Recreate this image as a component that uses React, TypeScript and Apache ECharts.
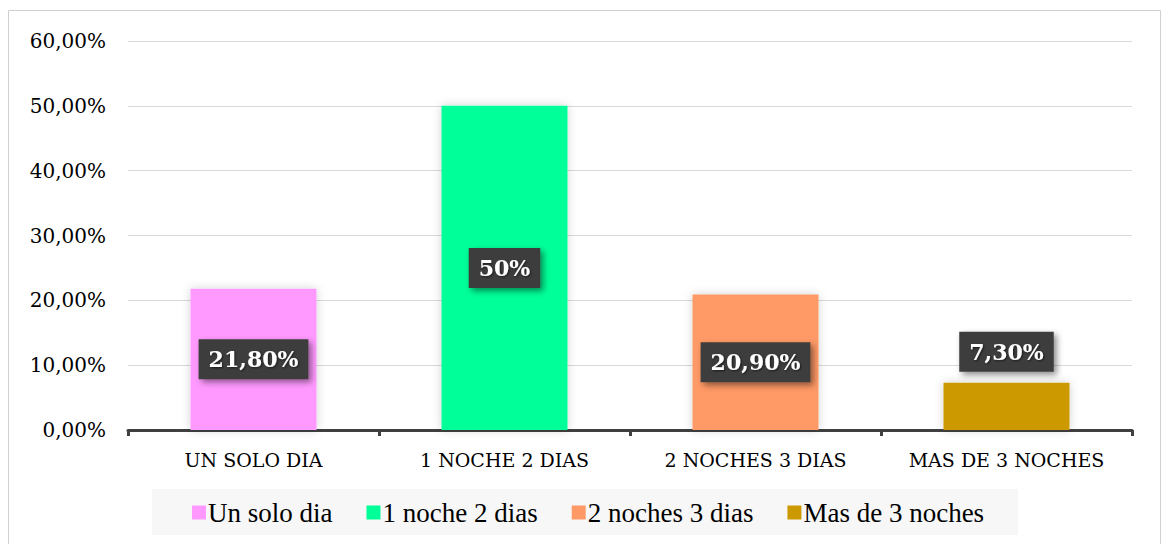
import React, { useEffect, useRef } from "react";
import * as echarts from "echarts";

const categories = ["UN SOLO DIA", "1 NOCHE 2 DIAS", "2 NOCHES 3 DIAS", "MAS DE 3 NOCHES"];
const seriesNames = ["Un solo dia", "1 noche 2 dias", "2 noches 3 dias", "Mas de 3 noches"];
const values = [21.8, 50, 20.9, 7.3];
const valueLabels = ["21,80%", "50%", "20,90%", "7,30%"];
const colors = ["#FF99FF", "#00FF99", "#FF9966", "#CC9900"];
const labelPositions = ["inside", "inside", "inside", "top"];

export default function App() {
  const ref = useRef<HTMLDivElement>(null);
  useEffect(() => {
    if (!ref.current) return;
    const chart = echarts.init(ref.current, null, { renderer: "svg" });
    const series = seriesNames.map((name, i) => ({
      name,
      type: "bar",
      stack: "all",
      barWidth: 126,
      data: categories.map((_, j) => (j === i ? values[i] : "-")),
      itemStyle: {
        color: colors[i],
        shadowBlur: 10,
        shadowColor: "rgba(0,0,0,0.18)",
      },
      label: {
        show: true,
        position: labelPositions[i],
        distance: 11,
        formatter: () => valueLabels[i],
        color: "#ffffff",
        fontFamily: "DejaVu Serif",
        fontWeight: "bold",
        fontSize: 22,
        lineHeight: 24,
        backgroundColor: "#3d3d3d",
        padding: [8, 10, 8, 10],
        shadowColor: "rgba(0,0,0,0.45)",
        shadowBlur: 6,
        shadowOffsetX: 3,
        shadowOffsetY: 3,
        textShadowColor: "rgba(0,0,0,0.6)",
        textShadowBlur: 2,
        textShadowOffsetX: 1,
        textShadowOffsetY: 1,
      },
    }));
    chart.setOption({
      animation: false,
      backgroundColor: "#ffffff",
      graphic: [
        {
          type: "rect",
          shape: { x: 8.5, y: 10.5, width: 1152, height: 600 },
          style: { fill: "none", stroke: "#d0d0d0", lineWidth: 1 },
          silent: true,
          z: 0,
        },
        {
          type: "rect",
          shape: { x: 152, y: 489, width: 866, height: 46 },
          style: { fill: "#f7f7f7" },
          silent: true,
          z: 0,
        },
      ],
      grid: { left: 128, right: 31, top: 41, bottom: 114, containLabel: false },
      legend: {
        data: seriesNames,
        left: 187,
        top: 494,
        icon: "rect",
        itemWidth: 14,
        itemHeight: 14,
        itemGap: 34,
        textStyle: {
          fontFamily: "Liberation Serif",
          fontSize: 27,
          color: "#000000",
          padding: [0, 0, 0, -3],
        },
        z: 5,
      },
      xAxis: {
        type: "category",
        data: categories,
        axisLine: { lineStyle: { color: "#404040", width: 3 } },
        axisTick: { show: true, interval: 0, length: 6, lineStyle: { color: "#404040", width: 3 } },
        axisLabel: {
          interval: 0,
          fontFamily: "DejaVu Serif",
          fontSize: 19,
          color: "#000000",
          margin: 20,
        },
      },
      yAxis: {
        type: "value",
        min: 0,
        max: 60,
        interval: 10,
        axisLine: { show: false },
        axisTick: { show: false },
        splitLine: { lineStyle: { color: "#d9d9d9", width: 1 } },
        axisLabel: {
          fontFamily: "DejaVu Serif",
          fontSize: 20,
          color: "#000000",
          margin: 22,
          formatter: (v: number) => v.toFixed(2).replace(".", ",") + "%",
        },
      },
      series,
    });
    return () => chart.dispose();
  }, []);
  return (
    <div
      ref={ref}
      style={{ position: "absolute", left: 0, top: 0, width: 1163, height: 544 }}
    />
  );
}
